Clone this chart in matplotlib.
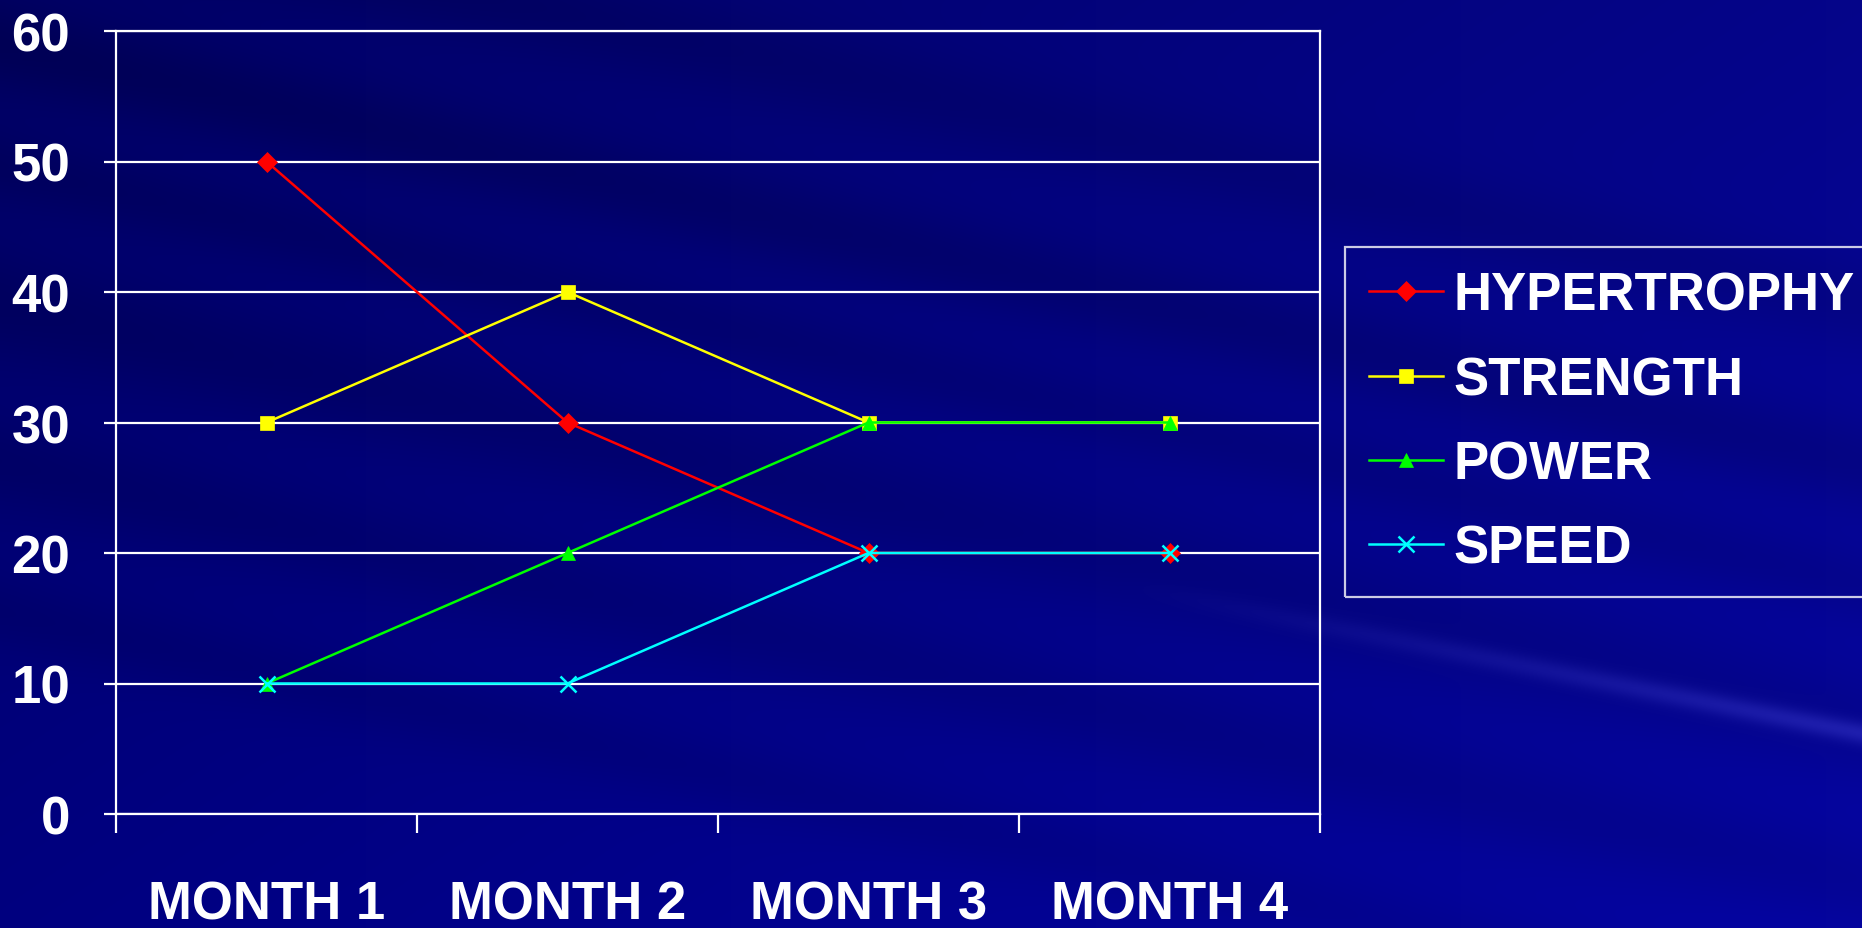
import numpy as np
import matplotlib
matplotlib.use("Agg")
import matplotlib.pyplot as plt
from matplotlib import font_manager

# chart data
months = ['MONTH 1', 'MONTH 2', 'MONTH 3', 'MONTH 4']
hypertrophy = [50, 30, 20, 20]
strength = [30, 40, 30, 30]
power = [10, 20, 30, 30]
speed = [10, 10, 20, 20]
series_names = ['HYPERTROPHY', 'STRENGTH', 'POWER', 'SPEED']

names = {f.name for f in font_manager.fontManager.ttflist}
if 'Liberation Sans Narrow' in names:
    plt.rcParams['font.family'] = ['Liberation Sans Narrow', 'DejaVu Sans']
    fs = 46
else:
    plt.rcParams['font.family'] = ['Liberation Sans', 'DejaVu Sans']
    fs = 38
plt.rcParams['font.weight'] = 'bold'

W, H = 1862, 929
fig = plt.figure(figsize=(W / 100, H / 100), dpi=100)

# slide-like background: navy gradient with diagonal rays
bg = fig.add_axes([0, 0, 1, 1], zorder=-10)
yy, xx = np.mgrid[0:H, 0:W]
xn = xx / W
yn = yy / H
blue = 0.40 + 0.14 * xn + 0.10 * yn
u = yn - 0.45 * xn
for c, w, d in [(0.05, 0.05, -0.07), (0.18, 0.04, -0.05), (0.33, 0.06, -0.06),
                (0.50, 0.05, -0.05), (0.66, 0.04, -0.04), (-0.12, 0.05, -0.05)]:
    blue += d * np.exp(-((u - c) / w) ** 2)
ray = yn - (0.63 + 0.16 * (xn - 0.6) / 0.4)
ray_mask = np.exp(-(ray / 0.012) ** 2) * np.clip((xn - 0.6) / 0.4, 0, 1)
img = np.zeros((H, W, 3))
img[..., 2] = np.clip(blue + 0.12 * ray_mask, 0, 1)
img[..., 0] = 0.02 * xn + 0.1 * ray_mask
img[..., 1] = 0.02 * xn + 0.1 * ray_mask
bg.imshow(img, aspect='auto', extent=[0, 1, 0, 1])
bg.axis('off')

ax = fig.add_axes([116 / W, 1 - 815 / H, (1320 - 116) / W, (815 - 32) / H])
ax.set_facecolor('none')

x = np.arange(len(months))
styles = [('#FF0000', 'D'), ('#FFFF00', 's'), ('#00FF00', '^'), ('#00FFFF', 'x')]
for vals, name, (col, mk) in zip([hypertrophy, strength, power, speed], series_names, styles):
    ax.plot(x, vals, color=col, marker=mk, markersize=10 if mk != 'x' else 11,
            markeredgewidth=1.8 if mk == 'x' else 0.5, markeredgecolor=col,
            linewidth=1.8, label=name, zorder=3)

ax.set_xlim(-0.5, len(months) - 0.5)
ax.set_ylim(0, 60)
ax.set_yticks(range(0, 61, 10))
ax.yaxis.grid(True, color='white', linewidth=1.6)
ax.set_axisbelow(True)

ax.set_xticks(x)
ax.set_xticklabels(months)
ax.set_xticks(np.arange(-0.5, len(months), 1.0), minor=True)
ax.tick_params(axis='x', which='major', length=0, pad=47, labelsize=fs, colors='white')
ax.tick_params(axis='x', which='minor', length=14, width=1.6, color='white', direction='out')
ax.tick_params(axis='y', length=9, width=1.6, color='white', pad=24, labelsize=fs, labelcolor='white')
for s in ax.spines.values():
    s.set_color('white')
    s.set_linewidth(1.6)

leg = fig.legend(loc='upper left', bbox_to_anchor=(1345 / W, 1 - 248 / H),
                 bbox_transform=fig.transFigure, borderaxespad=0, fontsize=fs,
                 frameon=True, fancybox=False, handlelength=1.4, handletextpad=0.2,
                 labelspacing=0.65, borderpad=0.45, labelcolor='white')
leg.get_frame().set_facecolor('none')
leg.get_frame().set_edgecolor('white')
leg.get_frame().set_linewidth(1.6)

fig.savefig('out.png', dpi=100)
